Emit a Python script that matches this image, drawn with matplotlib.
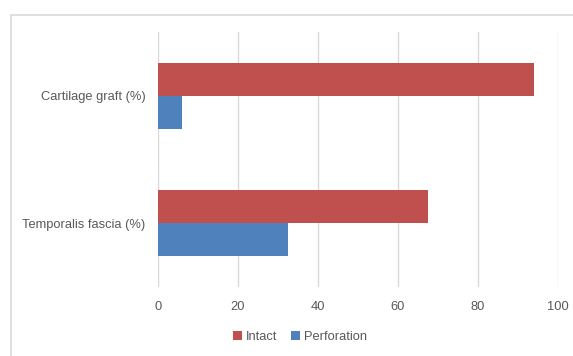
import matplotlib
matplotlib.use("Agg")
import matplotlib.pyplot as plt
from matplotlib.patches import Rectangle
import numpy as np

categories = ["Temporalis fascia (%)", "Cartilage graft (%)"]
intact = [67.4, 94.1]
perforation = [32.6, 5.9]
xticks = [0, 20, 40, 60, 80, 100]

red = "#C0504D"
blue = "#4F81BD"
txt = "#595959"
grid = "#D9D9D9"

W, H = 573, 356
fig = plt.figure(figsize=(W / 100, H / 100), dpi=100)
plt.rcParams["font.family"] = ["Liberation Sans", "DejaVu Sans"]

# outer chart frame (right/bottom run off the image)
fig.patches.append(Rectangle((11 / W, -0.05), 1.5, (H - 15) / H + 0.05,
                             transform=fig.transFigure, fill=False,
                             edgecolor=grid, linewidth=1.2))

ax = fig.add_axes([158 / W, (H - 287) / H, 400 / W, 255 / H])
y = np.arange(len(categories)) + 0.5
h = 0.26
ax.barh(y + h / 2, intact, height=h, color=red, label="Intact")
ax.barh(y - h / 2, perforation, height=h, color=blue, label="Perforation")

ax.set_xlim(0, 100)
ax.set_ylim(0, 2)
ax.set_xticks(xticks)
ax.set_yticks(y)
ax.set_yticklabels(categories)
ax.xaxis.grid(True, color=grid, linewidth=1)
ax.set_axisbelow(True)
for s in ax.spines.values():
    s.set_visible(False)
ax.tick_params(length=0, colors=txt, labelsize=9.3)
ax.tick_params(axis="x", pad=10)
ax.tick_params(axis="y", pad=9)

fig.legend(loc="center", bbox_to_anchor=(300 / W, 1 - 337 / H), ncol=2,
           frameon=False, fontsize=9.3, labelcolor=txt, handlelength=0.7,
           handleheight=0.7, handletextpad=0.3, columnspacing=1.0)

fig.savefig("out.png", dpi=100)
